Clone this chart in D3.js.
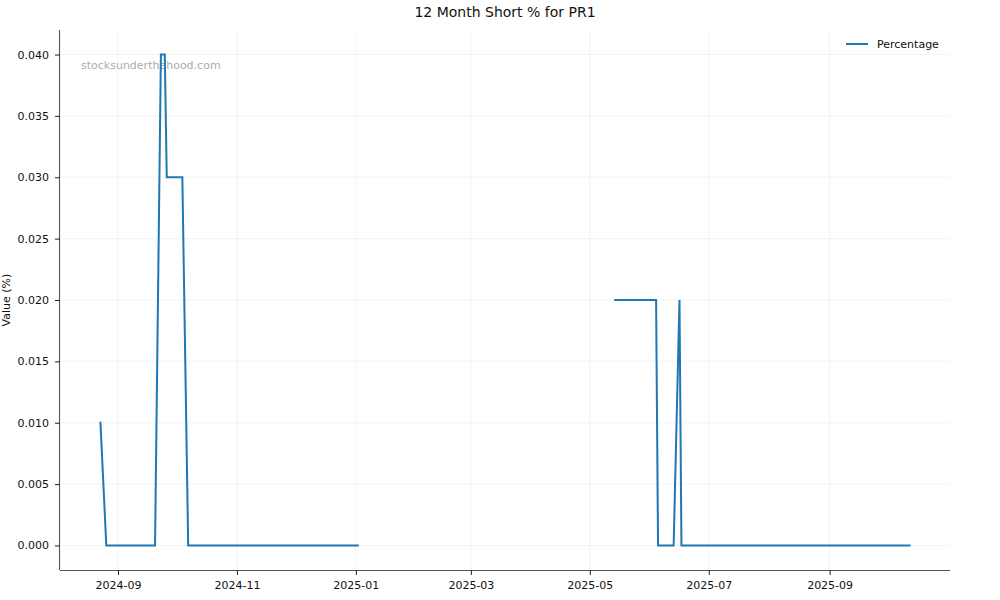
<!DOCTYPE html>
<html>
<head>
<meta charset="utf-8">
<script src="https://cdn.jsdelivr.net/npm/d3@7"></script>
<style>
  body { margin: 0; background: #fff; }
  svg { font-family: "DejaVu Sans", sans-serif; }
</style>
</head>
<body>
<svg id="chart" width="1000" height="600"></svg>
<script>
// change points of the short % series (null = no data, line breaks there)
const dates = [
  '2024-08-23', '2024-08-26', '2024-09-20', '2024-09-23', '2024-09-25', '2024-09-26',
  '2024-10-04', '2024-10-07', '2025-01-02', null,
  '2025-05-14', '2025-06-04', '2025-06-05', '2025-06-13', '2025-06-16', '2025-06-17', '2025-10-12',
];
const values = [
  0.010, 0.000, 0.000, 0.040, 0.040, 0.030,
  0.030, 0.000, 0.000, null,
  0.020, 0.020, 0.000, 0.000, 0.020, 0.000, 0.000,
];
const yTicks = [0, 0.005, 0.010, 0.015, 0.020, 0.025, 0.030, 0.035, 0.040];
const xTickDates = ['2024-09-01', '2024-11-01', '2025-01-01', '2025-03-01', '2025-05-01', '2025-07-01', '2025-09-01'];
const seriesName = 'Percentage';

(() => {
  const width = 1000;
  const height = 600;
  const left = 60;
  const right = 950;
  const plotTop = 30;
  const bottom = 570;

  const parseDate = d3.timeParse('%Y-%m-%d');
  const formatDate = d3.timeFormat('%Y-%m');
  const points = dates.map((d, i) => ({date: d ? parseDate(d) : null, value: values[i]}));
  const valid = points.filter((d) => d.date);

  // matplotlib-like 5% margins
  const [d0, d1] = d3.extent(valid, (d) => d.date);
  const pad = (d1 - d0) * 0.05;
  const x = d3.scaleTime()
      .domain([new Date(+d0 - pad), new Date(+d1 + pad)])
      .range([left, right]);
  const vMax = d3.max(valid, (d) => d.value);
  const y = d3.scaleLinear()
      .domain([-vMax * 0.05, vMax * 1.05])
      .range([bottom, plotTop]);

  const svg = d3.select('#chart')
      .attr('viewBox', [0, 0, width, height]);

  // grid
  const grid = svg.append('g').attr('class', 'grid');
  grid.selectAll('line.gy')
      .data(yTicks)
      .join('line')
      .attr('class', 'gy')
      .attr('x1', left).attr('x2', right)
      .attr('y1', (d) => y(d)).attr('y2', (d) => y(d))
      .attr('stroke', '#b0b0b0').attr('stroke-opacity', 0.2).attr('stroke-width', 0.8);
  grid.selectAll('line.gx')
      .data(xTickDates.map(parseDate))
      .join('line')
      .attr('class', 'gx')
      .attr('x1', (d) => x(d)).attr('x2', (d) => x(d))
      .attr('y1', plotTop).attr('y2', bottom)
      .attr('stroke', '#b0b0b0').attr('stroke-opacity', 0.2).attr('stroke-width', 0.8);

  // watermark
  svg.append('text')
      .attr('x', 81)
      .attr('y', 69)
      .attr('font-size', 11)
      .attr('fill', '#999')
      .attr('fill-opacity', 0.85)
      .text('stocksunderthehood.com');

  // line
  const line = d3.line()
      .defined((d) => d.date !== null && d.value !== null)
      .x((d) => x(d.date))
      .y((d) => y(d.value));
  svg.append('path')
      .datum(points)
      .attr('fill', 'none')
      .attr('stroke', '#1f77b4')
      .attr('stroke-width', 2)
      .attr('stroke-linecap', 'square')
      .attr('d', line);

  // axes
  const xAxis = d3.axisBottom(x)
      .tickValues(xTickDates.map(parseDate))
      .tickFormat(formatDate)
      .tickSize(5)
      .tickPadding(6);
  const gx = svg.append('g')
      .attr('transform', `translate(0,${bottom})`)
      .call(xAxis);
  const yAxis = d3.axisLeft(y)
      .tickValues(yTicks)
      .tickFormat(d3.format('.3f'))
      .tickSize(5)
      .tickPadding(6);
  const gy = svg.append('g')
      .attr('transform', `translate(${left},0)`)
      .call(yAxis);
  [gx, gy].forEach((g) => {
    g.select('.domain').attr('stroke', '#555').attr('stroke-width', 1.1);
    g.selectAll('.tick line').attr('stroke', '#222').attr('stroke-width', 1);
    g.selectAll('.tick text').attr('font-size', 11).attr('fill', '#111')
        .attr('font-family', '"DejaVu Sans", sans-serif');
  });
  // no outer tick ends on the spines
  gx.select('.domain').attr('d', `M${left},0.5H${right}`);
  gy.select('.domain').attr('d', `M-0.5,${plotTop}V${bottom}`);

  // title and label
  svg.append('text')
      .attr('x', (left + right) / 2)
      .attr('y', 17)
      .attr('text-anchor', 'middle')
      .attr('font-size', 14)
      .attr('fill', '#111')
      .text('12 Month Short % for PR1');
  svg.append('text')
      .attr('transform', `translate(10,${(plotTop + bottom) / 2}) rotate(-90)`)
      .attr('text-anchor', 'middle')
      .attr('font-size', 11)
      .attr('fill', '#111')
      .text('Value (%)');

  // legend
  const gLegend = svg.append('g')
      .attr('transform', 'translate(846,44)');
  gLegend.append('line')
      .attr('x1', 0).attr('x2', 22)
      .attr('stroke', '#1f77b4').attr('stroke-width', 2);
  gLegend.append('text')
      .attr('x', 31)
      .attr('y', 4)
      .attr('font-size', 11)
      .attr('fill', '#111')
      .text(seriesName);
})();
</script>
</body>
</html>
